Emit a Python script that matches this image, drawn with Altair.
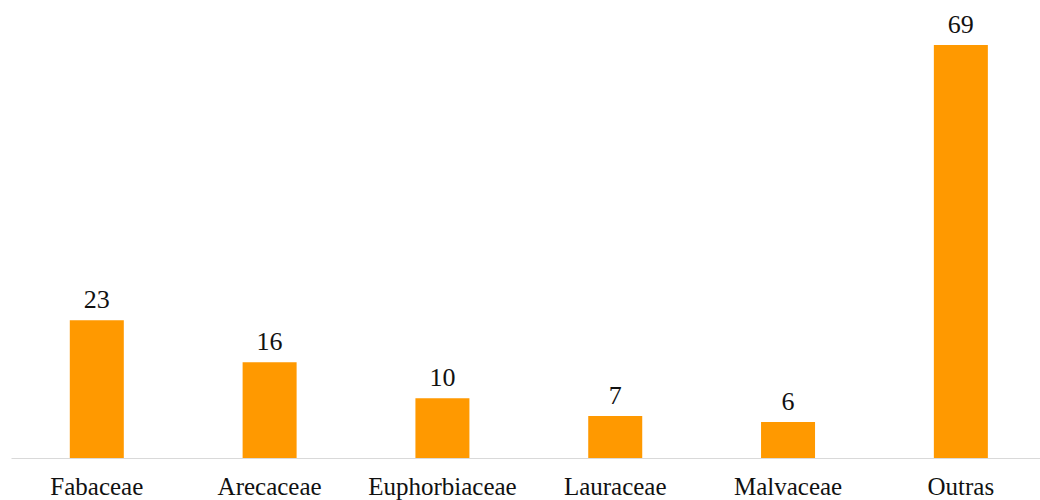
import altair as alt
import pandas as pd

# Número de espécies por família botânica
familias = ["Fabaceae", "Arecaceae", "Euphorbiaceae", "Lauraceae", "Malvaceae", "Outras"]
especies = [23, 16, 10, 7, 6, 69]

df = pd.DataFrame({"familia": familias, "especies": especies})

FONT = "Liberation Serif"

x_enc = alt.X(
    "familia:N",
    sort=familias,
    title=None,
    scale=alt.Scale(paddingInner=0.6875, paddingOuter=0.321, align=0.53),
    axis=alt.Axis(
        labelAngle=0,
        labelFont=FONT,
        labelFontSize=25,
        labelColor="#111111",
        labelBaseline="alphabetic",
        labelPadding=36,
        ticks=False,
        domainColor="#D9D9D9",
        domainWidth=1,
        grid=False,
    ),
)
y_enc = alt.Y(
    "especies:Q",
    title=None,
    scale=alt.Scale(domain=[0, 70], nice=False),
    axis=None,
)

bars = alt.Chart(df).mark_bar(color="#FF9900").encode(x=x_enc, y=y_enc)

labels = alt.Chart(df).mark_text(
    font=FONT,
    fontSize=26,
    color="#111111",
    baseline="alphabetic",
    dy=-12,
).encode(x=x_enc, y=y_enc, text="especies:Q")

chart = (
    alt.layer(bars, labels)
    .properties(
        width=1029,
        height=419,
        autosize=alt.AutoSizeParams(type="none"),
        padding={"left": 11, "top": 39, "right": 0, "bottom": 42},
        background="white",
    )
    .configure_view(stroke=None)
)

chart.save("out.html", embed_options={"renderer": "svg", "actions": False})
